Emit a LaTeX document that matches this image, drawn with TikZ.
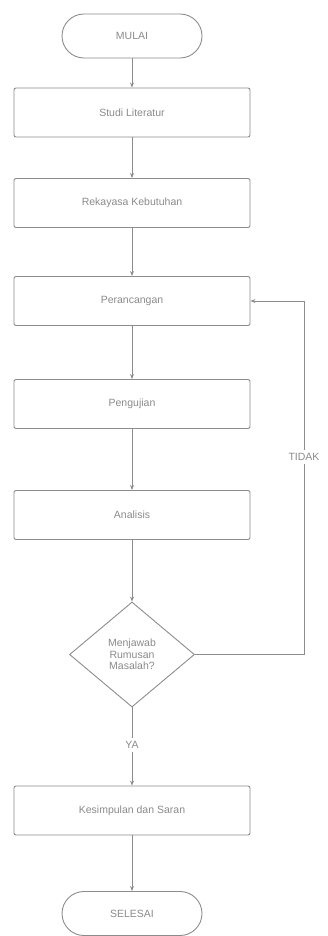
\documentclass[tikz,border=0pt]{standalone}
\usepackage{fontspec}
\setmainfont{Liberation Sans}
\usetikzlibrary{shapes.geometric,arrows.meta}
\definecolor{ln}{HTML}{8C8C8C}
\definecolor{tx}{HTML}{8A8A8A}
\begin{document}
\begin{tikzpicture}[x=1pt,y=-1pt,
  every node/.style={text=tx,font=\fontsize{10.5}{12.5}\selectfont},
  procbox/.style={draw=ln,line width=0.9pt,rounded corners=2pt,minimum width=236pt,minimum height=49pt,inner sep=0pt},
  termbox/.style={draw=ln,line width=0.9pt,rounded corners=22pt,minimum width=140pt,minimum height=44pt,inner sep=0pt},
  decbox/.style={draw=ln,line width=0.9pt,diamond,aspect=1.19,minimum width=125pt,minimum height=105pt,inner sep=0pt,align=center},
  flow/.style={draw=ln,line width=0.9pt,-{Stealth[length=5pt,width=4pt]}},
  plain/.style={draw=ln,line width=0.9pt}]
\useasboundingbox (0,0) rectangle (327,936);
\node[termbox] (mulai) at (132,36) {MULAI};
\node[procbox] (studi) at (132,112.5) {Studi Literatur};
\node[procbox] (reka) at (132,203) {Rekayasa Kebutuhan};
\node[procbox] (peran) at (132,301) {Perancangan};
\node[procbox] (uji) at (132,404) {Pengujian};
\node[procbox] (anal) at (132,515) {Analisis};
\node[decbox] (dec) at (132,654.5) {Menjawab\\[-1pt]Rumusan\\[-1pt]Masalah?};
\node[procbox] (kesim) at (132,810.5) {Kesimpulan dan Saran};
\node[termbox] (selesai) at (132,913.5) {SELESAI};
\node (ya) at (132,745) {YA};
\node (tidak) at (304,457) {TIDAK};
\coordinate (c1) at (304,654.5);
\coordinate (c2) at (304,301);
\draw[flow] (mulai) -- (studi);
\draw[flow] (studi) -- (reka);
\draw[flow] (reka) -- (peran);
\draw[flow] (peran) -- (uji);
\draw[flow] (uji) -- (anal);
\draw[flow] (anal) -- (dec);
\draw[plain] (dec) -- (ya);
\draw[flow] (ya) -- (kesim);
\draw[flow] (kesim) -- (selesai);
\draw[plain] (dec.east) -- (c1) -- (tidak);
\draw[flow] (tidak) -- (c2) -- (peran.east);
\end{tikzpicture}
\end{document}
